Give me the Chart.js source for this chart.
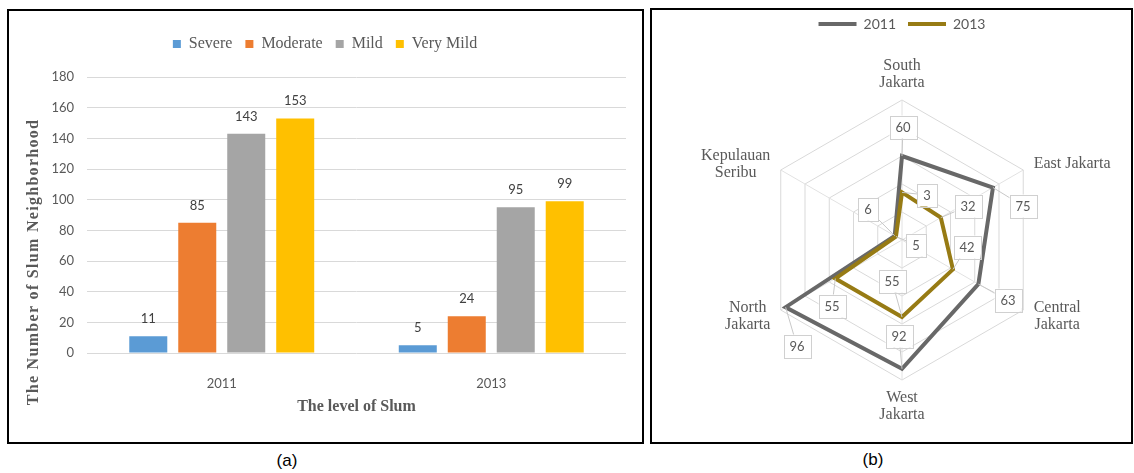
<!DOCTYPE html>
<html>
<head>
<meta charset="utf-8">
<script src="https://cdn.jsdelivr.net/npm/chart.js@4.4.1/dist/chart.umd.min.js"></script>
<style>
  body { margin: 0; background: #fff; }
  #page { position: relative; width: 1134px; height: 473px; overflow: hidden; background: #fff; }
  canvas { position: absolute; }
  .frame { position: absolute; border: 2px solid #000; box-sizing: border-box; pointer-events: none; }
  .cap { position: absolute; width: 60px; text-align: center; font: 17px/20px "Liberation Sans", Arial, sans-serif; color: #000; }
</style>
</head>
<body>
<div id="page">
  <canvas id="barChart" width="633" height="430" style="left:9px;top:11px"></canvas>
  <canvas id="radarChart" width="479" height="441" style="left:652px;top:0px"></canvas>
  <div class="frame" style="left:7px;top:9px;width:637px;height:435px"></div>
  <div class="frame" style="left:650px;top:8px;width:483px;height:436px"></div>
  <div class="cap" style="left:257px;top:451px">(a)</div>
  <div class="cap" style="left:843px;top:450px">(b)</div>
</div>
<script>
// (a) slum neighbourhoods per level
const years = ['2011', '2013'];
const severe = [11, 5];
const moderate = [85, 24];
const mild = [143, 95];
const veryMild = [153, 99];
const yTicks = [0, 20, 40, 60, 80, 100, 120, 140, 160, 180];
const yAxisLabel = 'The Number of Slum Neighborhood';
const xAxisLabel = 'The level of Slum';

// (b) slum neighbourhoods per region
const regions = [['South', 'Jakarta'], 'East Jakarta', ['Central', 'Jakarta'], ['West', 'Jakarta'], ['North', 'Jakarta'], ['Kepulauan', 'Seribu']];
const slum2011 = [60, 75, 63, 92, 96, 6];
const slum2013 = [34, 32, 42, 55, 55, 5];
// label text as printed in the source (the South label is cut to "3")
const text2013 = ['3', '32', '42', '55', '55', '5'];
const radarRings = [0, 20, 40, 60, 80, 100];

const SERIF = '"Liberation Serif", "Times New Roman", serif';
const SANS = 'Lato, "Open Sans", sans-serif';
const GREY = '#595959';

Chart.defaults.color = GREY;

// empty title used as a spacer between legend and plot
const spacer = h => ({ display: true, text: ' ', weight: 500, font: { size: 10 }, padding: { top: 0, bottom: h - 12 } });

const barValueLabels = {
  id: 'barValueLabels',
  afterDatasetsDraw(chart) {
    const ctx = chart.ctx;
    ctx.save();
    ctx.font = '13px ' + SANS;
    ctx.fillStyle = '#404040';
    ctx.textAlign = 'center';
    ctx.textBaseline = 'alphabetic';
    chart.data.datasets.forEach((ds, i) => {
      chart.getDatasetMeta(i).data.forEach((bar, j) => {
        ctx.fillText(ds.data[j], bar.x, bar.y - 13);
      });
    });
    ctx.restore();
  }
};

const yTitle = {
  id: 'yTitle',
  afterDraw(chart) {
    const ctx = chart.ctx;
    const ya = chart.scales.y;
    ctx.save();
    ctx.translate(ya.left + 10, ya.bottom - 91);
    ctx.rotate(-Math.PI / 2);
    ctx.font = 'bold 16px ' + SERIF;
    ctx.letterSpacing = '1.3px';
    ctx.fillStyle = GREY;
    ctx.textAlign = 'center';
    ctx.textBaseline = 'middle';
    ctx.fillText(yAxisLabel, 0, 0);
    ctx.restore();
  }
};

const barChart = new Chart(document.getElementById('barChart'), {
  type: 'bar',
  data: {
    labels: years,
    datasets: [
      { label: 'Severe', data: severe, backgroundColor: '#5B9BD5' },
      { label: 'Moderate', data: moderate, backgroundColor: '#ED7D31' },
      { label: 'Mild', data: mild, backgroundColor: '#A5A5A5' },
      { label: 'Very Mild', data: veryMild, backgroundColor: '#FFC000' }
    ]
  },
  options: {
    responsive: false,
    animation: false,
    layout: { padding: { left: 15, right: 16, top: 12, bottom: 0 } },
    datasets: { bar: { categoryPercentage: 0.727, barPercentage: 0.776, borderWidth: 0 } },
    plugins: {
      legend: {
        labels: { font: { family: SERIF, size: 16 }, color: GREY, boxWidth: 8, boxHeight: 8, padding: 13 }
      },
      title: spacer(15),
      tooltip: { enabled: false }
    },
    scales: {
      x: {
        grid: { display: false },
        border: { display: false },
        ticks: { font: { family: SANS, size: 13 }, color: GREY, padding: 15 },
        title: { display: true, text: xAxisLabel, color: GREY, font: { family: SERIF, size: 16, weight: 'bold' }, padding: { top: 0, bottom: 25 } },
        afterFit: s => { s.height = 88; }
      },
      y: {
        min: yTicks[0],
        max: yTicks[yTicks.length - 1],
        grid: { color: '#d9d9d9', drawTicks: false },
        border: { display: false },
        ticks: { font: { family: SANS, size: 13 }, color: GREY, padding: 13 },
        afterBuildTicks: s => { s.ticks = yTicks.map(v => ({ value: v })); },
        afterFit: s => { s.width = 63; }
      }
    }
  },
  plugins: [barValueLabels, yTitle]
});

// where each value box sits relative to its point
const boxOffsets = [
  [[1, -29], [30, 19], [30, 16], [-3, -33], [11, 39], [-27, -27]],
  [[25, 3], [27, -12], [14, -22], [-10, -36], [-3, 27], [20, 8]]
];

const radarPointLabels = {
  id: 'radarPointLabels',
  afterDraw(chart) {
    const sc = chart.scales.r;
    const ctx = chart.ctx;
    const n = chart.data.labels.length;
    const lh = 17;
    ctx.save();
    ctx.font = '16px ' + SERIF;
    ctx.fillStyle = GREY;
    ctx.textBaseline = 'middle';
    ctx.textAlign = 'center';
    chart.data.labels.forEach((lab, i) => {
      const lines = [].concat(lab);
      const deg = i * 360 / n;
      const vertical = deg === 0 || deg === 180;
      const p = sc.getPointPosition(i, sc.drawingArea + (vertical ? 9 : 12));
      const bw = Math.max(...lines.map(t => ctx.measureText(t).width));
      const cx = vertical ? p.x : (deg < 180 ? p.x + bw / 2 : p.x - bw / 2);
      const h = lines.length * lh;
      const top = deg === 0 ? p.y - h : (deg === 180 ? p.y : p.y - h / 2);
      lines.forEach((t, k) => ctx.fillText(t, cx, top + lh * k + lh / 2));
    });
    ctx.restore();
  }
};

const radarValueBoxes = {
  id: 'radarValueBoxes',
  afterDatasetsDraw(chart) {
    const ctx = chart.ctx;
    ctx.save();
    ctx.font = '13px ' + SANS;
    ctx.textAlign = 'center';
    ctx.textBaseline = 'middle';
    ctx.lineWidth = 1;
    chart.data.datasets.forEach((ds, d) => {
      chart.getDatasetMeta(d).data.forEach((pt, i) => {
        const off = boxOffsets[d][i];
        const txt = ds.valueText[i];
        const bx = Math.round(pt.x + off[0]);
        const by = Math.round(pt.y + off[1]);
        const w = Math.round(ctx.measureText(txt).width + 12);
        const h = 23;
        ctx.strokeStyle = '#c8c8c8';
        ctx.beginPath();
        ctx.moveTo(pt.x, pt.y);
        ctx.lineTo(bx, by);
        ctx.stroke();
        ctx.fillStyle = '#fff';
        ctx.fillRect(bx - w / 2, by - h / 2, w, h);
        ctx.strokeStyle = '#d0d0d0';
        ctx.strokeRect(Math.round(bx - w / 2) + 0.5, Math.round(by - h / 2) + 0.5, w, h);
        ctx.fillStyle = GREY;
        ctx.fillText(txt, bx, by + 1);
      });
    });
    ctx.restore();
  }
};

const radarChart = new Chart(document.getElementById('radarChart'), {
  type: 'radar',
  data: {
    labels: regions,
    datasets: [
      { label: '2011', data: slum2011, valueText: slum2011.map(String), borderColor: '#686868', backgroundColor: '#686868', borderWidth: 4, order: 1 },
      { label: '2013', data: slum2013, valueText: text2013, borderColor: '#977b14', backgroundColor: '#977b14', borderWidth: 4, order: 0 }
    ]
  },
  options: {
    responsive: false,
    animation: false,
    layout: { padding: { left: 110, right: 89, top: 5, bottom: 61 } },
    elements: { point: { radius: 0 }, line: { fill: false, tension: 0 } },
    plugins: {
      legend: {
        labels: {
          usePointStyle: true, pointStyle: 'line', pointStyleWidth: 38,
          font: { family: SANS, size: 14 }, color: GREY, padding: 12,
          sort: (a, b) => a.datasetIndex - b.datasetIndex
        }
      },
      title: spacer(59),
      tooltip: { enabled: false }
    },
    scales: {
      r: {
        min: radarRings[0],
        max: radarRings[radarRings.length - 1],
        ticks: { display: false, stepSize: radarRings[1] - radarRings[0] },
        grid: { color: '#d9d9d9' },
        angleLines: { color: '#e2e2e2' },
        pointLabels: { display: false }
      }
    }
  },
  plugins: [radarPointLabels, radarValueBoxes]
});
</script>
</body>
</html>
